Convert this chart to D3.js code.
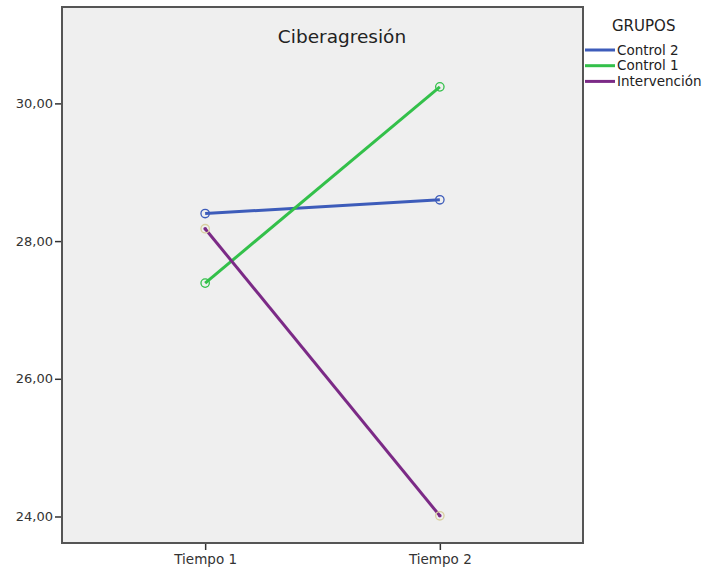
<!DOCTYPE html>
<html>
<head>
<meta charset="utf-8">
<script src="https://cdn.jsdelivr.net/npm/d3@7"></script>
<style>
  html, body { margin: 0; padding: 0; background: #fff; }
  text { font-family: "DejaVu Sans", sans-serif; }
</style>
</head>
<body>
<svg id="chart" width="702" height="572"></svg>
<script>
// Mean Ciberagresión score per group at two time points
const times = ["Tiempo 1", "Tiempo 2"];
const groups = ["Control 2", "Control 1", "Intervención"];
const control2 = [28.40, 28.60];
const control1 = [27.39, 30.24];
const intervencion = [28.18, 24.01];
const yTicks = [24, 26, 28, 30];
const colors = ["#3d5cba", "#33c04a", "#7b2a86"];
const markerStroke = ["#3d5cba", "#33c04a", "#d8cfa0"];

const seriesValues = [control2, control1, intervencion];

const svg = d3.select("#chart");
const plot = { left: 62, right: 583, top: 7, bottom: 543 };

const x = d3.scalePoint().domain(times).range([plot.left, plot.right]).padding(0.61);
const y = d3.scaleLinear().domain([23.615, 31.4]).range([plot.bottom, plot.top]);

// plot background
svg.append("rect")
  .attr("x", plot.left).attr("y", plot.top)
  .attr("width", plot.right - plot.left).attr("height", plot.bottom - plot.top)
  .attr("fill", "#efefef");

const fmt = d => d3.format(".2f")(d).replace(".", ",");

// axes
const yAxis = svg.append("g")
  .attr("transform", `translate(${plot.left},0)`)
  .call(d3.axisLeft(y).tickValues(yTicks).tickFormat(fmt).tickSize(7).tickPadding(2));
const xAxis = svg.append("g")
  .attr("transform", `translate(0,${plot.bottom})`)
  .call(d3.axisBottom(x).tickSize(7).tickPadding(4));

[yAxis, xAxis].forEach(g => {
  g.select(".domain").remove();
  g.selectAll(".tick line").attr("stroke", "#333").attr("stroke-width", 1.5);
  g.selectAll(".tick text").attr("fill", "#333")
    .style("font-family", "DejaVu Sans, sans-serif");
});
yAxis.selectAll(".tick text").style("font-size", "13px");
xAxis.selectAll(".tick text").style("font-size", "13.5px");

// frame
svg.append("rect")
  .attr("x", plot.left).attr("y", plot.top)
  .attr("width", plot.right - plot.left).attr("height", plot.bottom - plot.top)
  .attr("fill", "none").attr("stroke", "#555").attr("stroke-width", 2);

// title
svg.append("text")
  .attr("x", 342).attr("y", 43)
  .attr("text-anchor", "middle")
  .attr("fill", "#222")
  .style("font-size", "18.5px")
  .text("Ciberagresión");

// lines and markers
const line = d3.line().x((d, i) => x(times[i])).y(d => y(d));
seriesValues.forEach((vals, k) => {
  svg.append("path")
    .datum(vals)
    .attr("d", line)
    .attr("fill", "none")
    .attr("stroke", colors[k])
    .attr("stroke-width", 3);
});
seriesValues.forEach((vals, k) => {
  const g = svg.append("g");
  g.selectAll("circle.m").data(vals).join("circle")
    .attr("cx", (d, i) => x(times[i]))
    .attr("cy", d => y(d))
    .attr("r", 4.2)
    .attr("fill", "none")
    .attr("stroke", markerStroke[k])
    .attr("stroke-width", 1.3);
  if (k === 2) {
    g.selectAll("circle.c").data(vals).join("circle")
      .attr("cx", (d, i) => x(times[i]))
      .attr("cy", d => y(d))
      .attr("r", 1.8)
      .attr("fill", colors[k]);
  }
});

// legend
const legend = svg.append("g");
legend.append("text")
  .attr("x", 612).attr("y", 31)
  .attr("fill", "#222")
  .style("font-size", "15px")
  .text("GRUPOS");
groups.forEach((name, k) => {
  const ly = 50 + k * 15.7;
  legend.append("line")
    .attr("x1", 585).attr("x2", 615)
    .attr("y1", ly).attr("y2", ly)
    .attr("stroke", colors[k]).attr("stroke-width", 3);
  legend.append("text")
    .attr("x", 617).attr("y", ly + 4.5)
    .attr("fill", "#222")
    .style("font-size", "13.5px")
    .text(name);
});
</script>
</body>
</html>
